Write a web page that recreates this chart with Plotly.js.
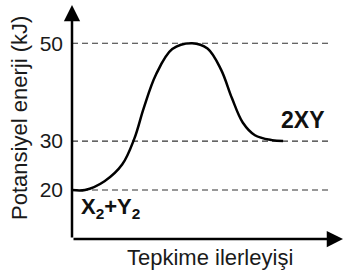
<!DOCTYPE html>
<html><head><meta charset="utf-8">
<script src="https://cdn.plot.ly/plotly-3.0.1.min.js"></script>
<style>html,body{margin:0;padding:0;background:#fff}#chart{width:344px;height:273px}</style>
</head><body><div id="chart"></div>
<script>
// Reaction progress (arbitrary units) and potential energy (kJ)
const progress = [0, 4.8, 12.0, 18.5, 23.0, 26.5, 31.0, 37.0, 44.3, 50.0, 55.0, 59.0, 63.0, 67.5, 73.8, 77.9];
const energy   = [20, 20, 21.8, 25.2, 30.5, 36.8, 43.6, 48.8, 50, 48.9, 44.6, 38.8, 33.8, 31.2, 30.2, 30];
// Energy levels marked on the axis
const levels = [20, 30, 50];
const levelLabels = ["20", "30", "50"];
const reactantLabel = "X<sub>2</sub>+Y<sub>2</sub>";
const productLabel = "2XY";
const yTitle = "Potansiyel enerji (kJ)";
const xTitle = "Tepkime ilerleyişi";

const FONT = "Liberation Sans, Arial, sans-serif";
const traces = levels.map(v => ({
  x: [0, 94.5], y: [v, v], mode: "lines", type: "scatter",
  line: {color: "#333", width: 1.1, dash: "6px,4px"}, hoverinfo: "skip", showlegend: false
}));
traces.push({
  x: progress, y: energy, mode: "lines", type: "scatter",
  line: {color: "#000", width: 2.5, shape: "spline", smoothing: 1}, cliponaxis: false, showlegend: false
});

const layout = {
  width: 344, height: 273,
  margin: {l: 72, r: 1, t: 5, b: 34},
  paper_bgcolor: "#fff", plot_bgcolor: "#fff",
  font: {family: FONT, color: "#1a1a1a"},
  xaxis: {range: [0, 100], showgrid: false, zeroline: false, showticklabels: false, ticks: "", showline: false, fixedrange: true},
  yaxis: {range: [10, 57.8], showgrid: false, zeroline: false, tickvals: levels, ticktext: levelLabels,
          ticks: "", showline: false, tickfont: {size: 21, family: FONT, color: "#1a1a1a"}, ticklabelstandoff: 8, fixedrange: true},
  annotations: [
    {x: 0, y: 57.8, ax: 0, ay: 10, xref: "x", yref: "y", axref: "x", ayref: "y", showarrow: true,
     arrowhead: 2, arrowsize: 1.3, arrowwidth: 2.5, arrowcolor: "#000", text: ""},
    {x: 100, y: 10, ax: 0, ay: 10, xref: "x", yref: "y", axref: "x", ayref: "y", showarrow: true,
     arrowhead: 2, arrowsize: 1.3, arrowwidth: 2.5, arrowcolor: "#000", text: ""},
    {x: 2.6, y: 16.4, xref: "x", yref: "y", xanchor: "left", yanchor: "middle", showarrow: false,
     text: "<b>" + reactantLabel + "</b>", font: {size: 22, family: FONT, color: "#111"}},
    {x: 85.2, y: 34.4, xref: "x", yref: "y", xanchor: "center", yanchor: "middle", showarrow: false,
     text: "<b>" + productLabel + "</b>", font: {size: 23, family: FONT, color: "#111"}},
    {x: 0.509, y: -0.081, xref: "paper", yref: "paper", xanchor: "center", yanchor: "middle", showarrow: false,
     text: xTitle, font: {size: 22, family: FONT, color: "#1a1a1a"}},
    {x: -0.196, y: 0.517, xref: "paper", yref: "paper", xanchor: "center", yanchor: "middle", showarrow: false,
     textangle: -90, text: yTitle, font: {size: 22, family: FONT, color: "#1a1a1a"}}
  ]
};
Plotly.newPlot("chart", traces, layout, {staticPlot: true, displayModeBar: false});
</script></body></html>
